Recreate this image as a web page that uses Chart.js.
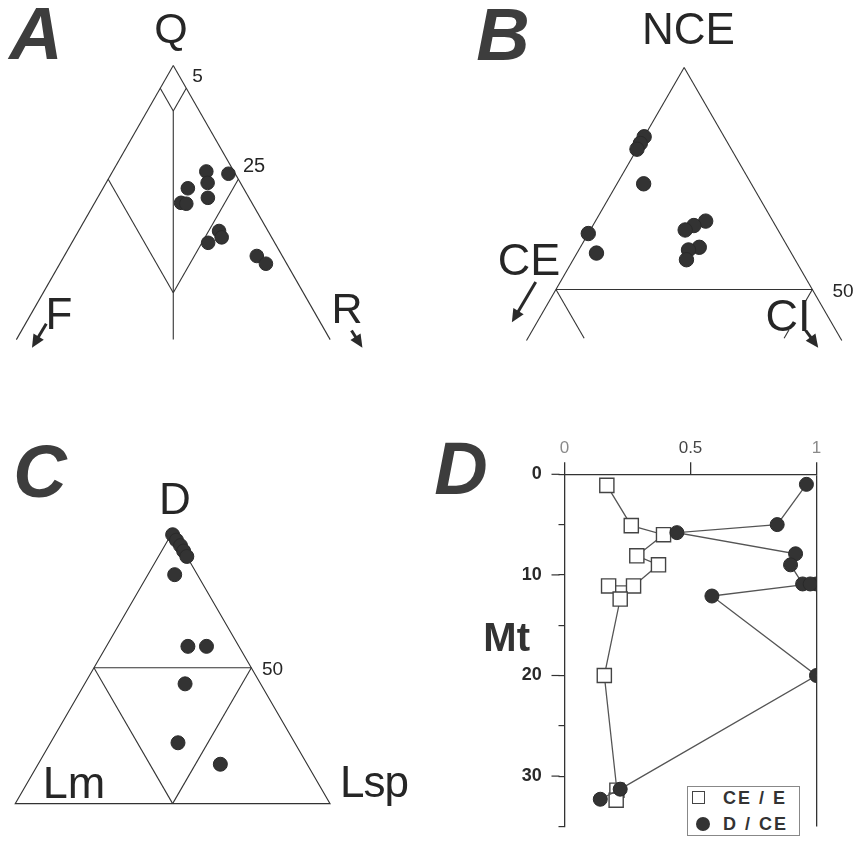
<!DOCTYPE html>
<html>
<head>
<meta charset="utf-8">
<script src="https://cdn.jsdelivr.net/npm/chart.js@4.4.1/dist/chart.umd.min.js"></script>
<style>
html,body{margin:0;padding:0;background:#fff;}
#wrap{position:relative;width:860px;height:854px;overflow:hidden;font-family:"Liberation Sans",Arial,sans-serif;}
canvas{position:absolute;}
.lbl{position:absolute;line-height:1;white-space:nowrap;color:#262626;}
</style>
</head>
<body>
<div id="wrap">
  <canvas id="cA" width="430" height="420" style="left:0;top:0"></canvas>
  <canvas id="cB" width="430" height="420" style="left:430px;top:0"></canvas>
  <canvas id="cC" width="430" height="434" style="left:0;top:420px"></canvas>
  <canvas id="cD" width="430" height="434" style="left:430px;top:420px"></canvas>
</div>
<script>
// ===================== DATA =====================
// Panel A : Q - F - R compositions (%)  [Q, F, R]
const qfrSamples = [
  [76.7, 5.3, 18.0],
  [74.2, 6.3, 19.5],
  [76.2, 1.3, 22.5],
  [73.0, 10.7, 16.3],
  [69.8, 13.6, 16.6],
  [69.6, 12.7, 17.7],
  [70.9, 7.9, 21.2],
  [63.6, 9.4, 27.0],
  [62.2, 9.6, 28.2],
  [61.0, 12.8, 26.2],
  [58.1, 4.9, 37.0],
  [56.4, 4.0, 39.6]
];
// Panel A field boundaries (Q, F, R)
const qfrFrame = [
  [[100, 0, 0], [39.7, 60.3, 0]],
  [[100, 0, 0], [39.7, 0, 60.3]],
  [[90, 5, 5], [39.7, 30.15, 30.15]],
  [[95, 5, 0], [90, 5, 5]],
  [[95, 0, 5], [90, 5, 5]],
  [[75, 25, 0], [50, 25, 25]],
  [[75, 0, 25], [50, 25, 25]]
];
const qfrArrows = [
  [[43.2, 52.8, 4.0], [37.9, 58.2, 3.9]],
  [[41.7, -5.1, 63.4], [37.9, -5.3, 67.4]]
];

// Panel B : NCE - CE - CI compositions (%)  [NCE, CE, CI]
const nceSamples = [
  [84.4, 15.6, 0.0],
  [82.9, 17.1, 0.0],
  [81.6, 18.4, 0.0],
  [73.8, 21.0, 5.2],
  [62.6, 37.4, 0.0],
  [58.2, 38.0, 3.8],
  [65.4, 13.1, 21.5],
  [64.4, 15.9, 19.7],
  [63.4, 18.1, 18.5],
  [59.5, 17.3, 23.2],
  [58.9, 19.7, 21.4],
  [56.7, 21.2, 22.1]
];
const nceFrame = [
  [[100, 0, 0], [38.5, 61.5, 0]],
  [[100, 0, 0], [38.5, 0, 61.5]],
  [[50, 50, 0], [50, 0, 50]],
  [[50, 50, 0], [39, 50, 11]],
  [[50, 0, 50], [39, 11, 50]]
];
const nceArrows = [
  [[51.7, 53.1, -4.8], [42.6, 62.3, -4.9]],
  [[40.8, 5.9, 53.3], [36.9, 5.4, 57.7]]
];

// Panel C : D - Lm - Lsp compositions (%)  [D, Lm, Lsp]
const dlmSamples = [
  [99.0, 0.5, 0.5],
  [97.0, 0.3, 2.7],
  [95.0, 0.0, 5.0],
  [93.0, 0.0, 7.0],
  [91.0, 0.0, 9.0],
  [84.3, 7.2, 8.5],
  [57.9, 16.2, 25.9],
  [57.9, 10.3, 31.8],
  [44.1, 24.0, 31.9],
  [22.4, 37.1, 40.5],
  [14.5, 27.6, 57.9]
];
const dlmFrame = [
  [[100, 0, 0], [0, 100, 0], [0, 0, 100], [100, 0, 0]],
  [[50, 50, 0], [50, 0, 50]],
  [[50, 50, 0], [0, 50, 50]],
  [[50, 0, 50], [0, 50, 50]]
];

// Panel D : ratios versus stratigraphic position (Mt)
const depthCEE = [1.1, 5.1, 6.0, 8.1, 9.0, 11.1, 11.1, 12.4, 20.0, 31.4, 32.4];
const ratioCEE = [0.168, 0.265, 0.393, 0.287, 0.373, 0.274, 0.175, 0.221, 0.158, 0.208, 0.205];
const depthDCE = [1.0, 5.0, 5.8, 7.9, 9.0, 10.9, 10.9, 10.9, 12.1, 20.0, 31.3, 32.3];
const ratioDCE = [0.960, 0.844, 0.446, 0.917, 0.897, 0.945, 1.0, 0.975, 0.585, 1.0, 0.221, 0.142];
const seriesNames = ['CE / E', 'D / CE'];
const depthTickLabels = [0, 10, 20, 30];
const ratioTickLabels = [0, 0.5, 1];

// ===================== RENDERING =====================
Chart.defaults.font.family = "'Liberation Sans', Arial, sans-serif";

function tern(p) { return { x: p[2] + p[0] / 2, y: p[0] }; }

const arrowPlugin = {
  id: 'arrows',
  afterDatasetsDraw(chart, args, opts) {
    const list = opts.list || [];
    const { ctx } = chart;
    const sx = chart.scales.x, sy = chart.scales.y;
    ctx.save();
    ctx.strokeStyle = opts.color; ctx.fillStyle = opts.color; ctx.lineWidth = opts.width;
    for (const a of list) {
      const p0 = tern(a[0]), p1 = tern(a[1]);
      const x0 = sx.getPixelForValue(p0.x), y0 = sy.getPixelForValue(p0.y);
      const x1 = sx.getPixelForValue(p1.x), y1 = sy.getPixelForValue(p1.y);
      const ang = Math.atan2(y1 - y0, x1 - x0);
      const head = opts.head, hw = opts.headWidth;
      const bx = x1 - head * Math.cos(ang), by = y1 - head * Math.sin(ang);
      ctx.beginPath(); ctx.moveTo(x0, y0); ctx.lineTo(bx + 2 * Math.cos(ang), by + 2 * Math.sin(ang)); ctx.stroke();
      ctx.beginPath(); ctx.moveTo(x1, y1);
      ctx.lineTo(bx + hw / 2 * Math.sin(ang), by - hw / 2 * Math.cos(ang));
      ctx.lineTo(bx - hw / 2 * Math.sin(ang), by + hw / 2 * Math.cos(ang));
      ctx.closePath(); ctx.fill();
    }
    ctx.restore();
  }
};

function makeTernary(id, geom, frame, samples, arrows, dot) {
  const cv = document.getElementById(id);
  const W = cv.width, H = cv.height;
  const ax = geom.apex[0], ay = geom.apex[1];
  const xmin = 50 - ax / geom.kx, xmax = 50 + (W - ax) / geom.kx;
  const ymax = 100 + ay / geom.ky, ymin = 100 - (H - ay) / geom.ky;
  const datasets = [{
    data: samples.map(tern), showLine: false, pointRadius: dot, pointHoverRadius: dot,
    pointBackgroundColor: '#333', pointBorderColor: '#2a2a2a', pointBorderWidth: 1, order: 0
  }];
  frame.forEach(seg => datasets.push({
    data: seg.map(tern), showLine: true, borderColor: '#333', borderWidth: 1.1,
    pointRadius: 0, pointHoverRadius: 0, order: 1, tension: 0
  }));
  return new Chart(cv, {
    type: 'scatter',
    data: { datasets },
    options: {
      responsive: false, animation: false, events: [],
      layout: { padding: 0 },
      plugins: {
        legend: { display: false }, tooltip: { enabled: false },
        arrows: { list: arrows, color: '#2a2a2a', width: 3, head: 13, headWidth: 12 }
      },
      scales: {
        x: { type: 'linear', display: false, min: xmin, max: xmax },
        y: { type: 'linear', display: false, min: ymin, max: ymax }
      }
    },
    plugins: [arrowPlugin]
  });
}

// Ternary panels (geometry: apex pixel in canvas and pixels per % unit)
makeTernary('cA', { apex: [171.7, 60], kx: 5.4, ky: 4.72 }, qfrFrame, qfrSamples, qfrArrows, 6.8);
makeTernary('cB', { apex: [255.7, 61.7], kx: 5.33, ky: 4.62 }, nceFrame, nceSamples, nceArrows, 7.2);
makeTernary('cC', { apex: [171, 108], kx: 3.27, ky: 2.82 }, dlmFrame, dlmSamples, [], 7);

// Panel D
const majorTickPlugin = {
  id: 'majorTicks',
  afterDraw(chart) {
    const y = chart.scales.y, ctx = chart.ctx;
    ctx.save(); ctx.strokeStyle = '#333'; ctx.lineWidth = 1.2;
    for (const v of depthTickLabels) {
      const py = y.getPixelForValue(v);
      ctx.beginPath(); ctx.moveTo(y.right - 13, py); ctx.lineTo(y.right - 5, py); ctx.stroke();
    }
    ctx.restore();
  }
};

new Chart(document.getElementById('cD'), {
  type: 'scatter',
  data: {
    datasets: [
      {
        label: seriesNames[1],
        data: depthDCE.map((d, i) => ({ x: ratioDCE[i], y: d })),
        showLine: true, borderColor: '#555', borderWidth: 1.3, tension: 0,
        pointStyle: 'circle', pointRadius: 7, pointHoverRadius: 7,
        pointBackgroundColor: '#333', pointBorderColor: '#2a2a2a', pointBorderWidth: 1
      },
      {
        label: seriesNames[0],
        data: depthCEE.map((d, i) => ({ x: ratioCEE[i], y: d })),
        showLine: true, borderColor: '#555', borderWidth: 1.3, tension: 0,
        pointStyle: 'rect', pointRadius: 10, pointHoverRadius: 10,
        pointBackgroundColor: '#fff', pointBorderColor: '#444', pointBorderWidth: 1.4
      }
    ]
  },
  options: {
    responsive: false, animation: false, events: [],
    layout: { padding: { left: 0, top: 0, right: 43.5, bottom: 1 } },
    plugins: { legend: { display: false }, tooltip: { enabled: false } },
    scales: {
      x: {
        type: 'linear', position: 'top', min: 0, max: 1,
        afterFit: s => { s.height = 54.3; },
        ticks: {
          stepSize: 0.5, padding: 4,
          callback: v => ratioTickLabels.includes(v) ? String(v) : '',
          color: c => (c.tick && c.tick.value === 0.5) ? '#444' : '#8a8a8a',
          font: { size: 17 }
        },
        grid: {
          drawOnChartArea: true, tickLength: 12, tickColor: '#333', lineWidth: 1.3,
          color: c => (c.tick && c.tick.value === 1) ? '#333' : 'rgba(0,0,0,0)'
        },
        border: { display: true, color: '#333', width: 1.3 }
      },
      y: {
        type: 'linear', reverse: true, min: 0, max: 35,
        afterFit: s => { s.width = 134.5; },
        ticks: {
          stepSize: 5, padding: 16.8,
          callback: v => depthTickLabels.includes(v) ? String(v) : '',
          color: '#2a2a2a', font: { size: 18, weight: 'bold' }
        },
        grid: { drawOnChartArea: false, tickLength: 6, color: '#333', tickColor: '#333', lineWidth: 1.2 },
        border: { display: true, color: '#333', width: 1.3 }
      }
    }
  },
  plugins: [majorTickPlugin]
});

// ===================== TEXT & LEGEND =====================
const wrap = document.getElementById('wrap');
function label(text, x, y, size, o) {
  o = o || {};
  const d = document.createElement('div');
  d.className = 'lbl';
  d.textContent = text;
  d.style.left = x + 'px';
  d.style.top = y + 'px';
  d.style.fontSize = size + 'px';
  d.style.transform = o.left ? 'translate(0,-50%)' : 'translate(-50%,-50%)';
  if (o.bold) d.style.fontWeight = 'bold';
  if (o.italic) d.style.fontStyle = 'italic';
  if (o.color) d.style.color = o.color;
  if (o.bg) { d.style.background = o.bg; d.style.padding = '0 2px'; d.style.lineHeight = o.lh; }
  if (o.ls) d.style.letterSpacing = o.ls + 'px';
  wrap.appendChild(d);
  return d;
}
const PANEL = '#3d3d3d';
label('A', 36, 34, 74, { bold: true, italic: true, color: PANEL });
label('B', 503, 35, 74, { bold: true, italic: true, color: PANEL });
label('C', 40, 472, 74, { bold: true, italic: true, color: PANEL });
label('D', 461, 469, 74, { bold: true, italic: true, color: PANEL });

label('Q', 171, 28, 43);
label('F', 59, 314, 44);
label('R', 347, 308, 43);
label('5', 197.5, 75, 19);
label('25', 254, 164.5, 20);

label('NCE', 688.5, 29, 44);
label('CE', 529, 258.5, 45);
label('CI', 788, 316, 45, { bg: '#fff', lh: '0.62' });
label('50', 843, 290, 19);

label('D', 175, 499, 44);
label('50', 272.5, 667.5, 19);
label('Lm', 74, 781.5, 45);
label('Lsp', 340, 781.5, 44, { left: true, ls: -1 });

label('Mt', 506.7, 636.5, 40, { bold: true, color: '#333' });

// legend for panel D
const lg = document.createElement('div');
lg.style.cssText = 'position:absolute;left:686.5px;top:786px;width:111px;height:48px;border:1.5px solid #888;background:#fff;';
wrap.appendChild(lg);
const sq = document.createElement('div');
sq.style.cssText = 'position:absolute;left:692px;top:791px;width:11px;height:11px;border:1.4px solid #444;background:#fff;';
wrap.appendChild(sq);
const ci = document.createElement('div');
ci.style.cssText = 'position:absolute;left:695.5px;top:817px;width:14px;height:14px;border-radius:50%;background:#333;';
wrap.appendChild(ci);
label(seriesNames[0], 723, 798, 18, { left: true, bold: true, ls: 2, color: '#333' });
label(seriesNames[1], 723, 824, 18, { left: true, bold: true, ls: 2, color: '#333' });
</script>
</body>
</html>
